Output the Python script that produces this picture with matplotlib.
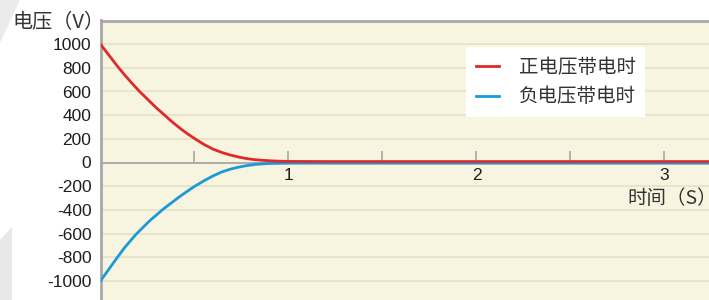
"""Voltage decay for positive / negative charged bodies."""
import matplotlib
matplotlib.use('Agg')
from matplotlib import pyplot as plt
from matplotlib.patches import Polygon

# values
t_pos = [0, 0.02, 0.04, 0.07, 0.097, 0.13, 0.164, 0.208, 0.25, 0.295,
         0.341, 0.385, 0.43, 0.465, 0.503, 0.55, 0.6, 0.645, 0.689, 0.735,
         0.778, 0.82, 0.866, 0.91, 0.95, 1.0, 1.2, 1.5, 2.0, 2.5, 3.0, 3.24]
v_pos = [1000, 958, 917, 855, 800, 737, 676, 600, 535, 465,
         400, 338, 281, 240, 200, 153, 112, 85, 64, 46,
         33, 24, 18, 14, 11, 9, 8, 8, 8, 8, 8, 8]
t_neg = [0, 0.04, 0.085, 0.13, 0.19, 0.26, 0.332, 0.38, 0.423, 0.46,
         0.497, 0.55, 0.6, 0.645, 0.689, 0.735, 0.778, 0.82, 0.866, 0.91,
         0.95, 1.0, 1.2, 1.5, 2.0, 2.5, 3.0, 3.24]
v_neg = [-1000, -912, -812, -716, -605, -495, -396, -338, -286, -245,
         -205, -155, -112, -80, -57, -39, -26, -17, -11, -8,
         -7, -6, -6, -6, -6, -6, -6, -6]
y_ticks = [-1000, -800, -600, -400, -200, 0, 200, 400, 600, 800, 1000]
x_major = [1, 2, 3]
x_minor = [0.5, 1.5, 2.5]
labels = ['正电压带电时', '负电压带电时']
y_title = '电压（V）'
x_title = '时间（S）'

CJK = ['Noto Sans CJK SC', 'DejaVu Sans']
W, H = 709, 300
GREY = '#A8A8A8'

fig = plt.figure(figsize=(W / 100, H / 100), dpi=100)
fig.patch.set_facecolor('white')

# faint decorative wedges on the left edge
fig.patches.append(Polygon([(0, 1), (20 / W, 1), (0, 1 - 43 / H)],
                           closed=True, transform=fig.transFigure,
                           facecolor='#EBEBEB', edgecolor='none'))
fig.patches.append(Polygon([(0, 60 / H), (12 / W, 73 / H), (12 / W, 0),
                            (0, 0)],
                           closed=True, transform=fig.transFigure,
                           facecolor='#E8E8E8', edgecolor='none'))

ax = fig.add_axes([100.5 / W, -4.5 / H, (W - 100.5) / W, 284 / H])
ax.set_facecolor('#F7F4E0')
ax.set_xlim(0, 3.237)
ax.set_ylim(-1200, 1200)
ax.set_axisbelow(True)

ax.plot(t_neg, v_neg, color='#1A9AD9', lw=2.0, zorder=3, label=labels[1],
        solid_joinstyle='round')
ax.plot(t_pos, v_pos, color='#E0292B', lw=2.0, zorder=4, label=labels[0],
        solid_joinstyle='round')

ax.set_yticks(y_ticks)
ax.set_yticklabels([str(v) for v in y_ticks], family='Liberation Sans')
ax.yaxis.grid(True, color='#E6E1C8', lw=1.2)
ax.tick_params(axis='y', length=0, pad=6.5, labelsize=12.5,
               labelcolor='#1e1e1e')

ax.spines['bottom'].set_position(('data', 0))
ax.spines['bottom'].set_color(GREY)
ax.spines['bottom'].set_linewidth(1.3)
for side in ('left', 'top'):
    ax.spines[side].set_color(GREY)
    ax.spines[side].set_linewidth(2)
ax.spines['right'].set_visible(False)

ax.set_xticks(x_major)
ax.set_xticklabels([str(v) for v in x_major], family='Liberation Sans')
ax.set_xticks(x_minor, minor=True)
ax.tick_params(axis='x', which='both', direction='in', length=9,
               width=1.2, color=GREY, pad=4, labelsize=12.5,
               labelcolor='#1e1e1e')

fig.text(12 / W, 1 - 22.5 / H, y_title, ha='left', va='center',
         fontsize=14.5, family=CJK, color='#333333')
fig.text(627 / W, 1 - 199 / H, x_title, ha='left', va='center',
         fontsize=14, family=CJK, color='#333333')

handles, names = ax.get_legend_handles_labels()
leg = ax.legend(handles[::-1], names[::-1], loc='upper left',
                bbox_to_anchor=(466 / W, 1 - 47 / H),
                bbox_transform=fig.transFigure, borderaxespad=0,
                frameon=True, fancybox=False, facecolor='white',
                edgecolor='none', framealpha=1,
                prop={'family': CJK, 'size': 14},
                handlelength=1.2, handletextpad=1.0, borderpad=0.5,
                labelspacing=0.45)
for txt in leg.get_texts():
    txt.set_color('#333333')

fig.savefig('out.png', dpi=100)
